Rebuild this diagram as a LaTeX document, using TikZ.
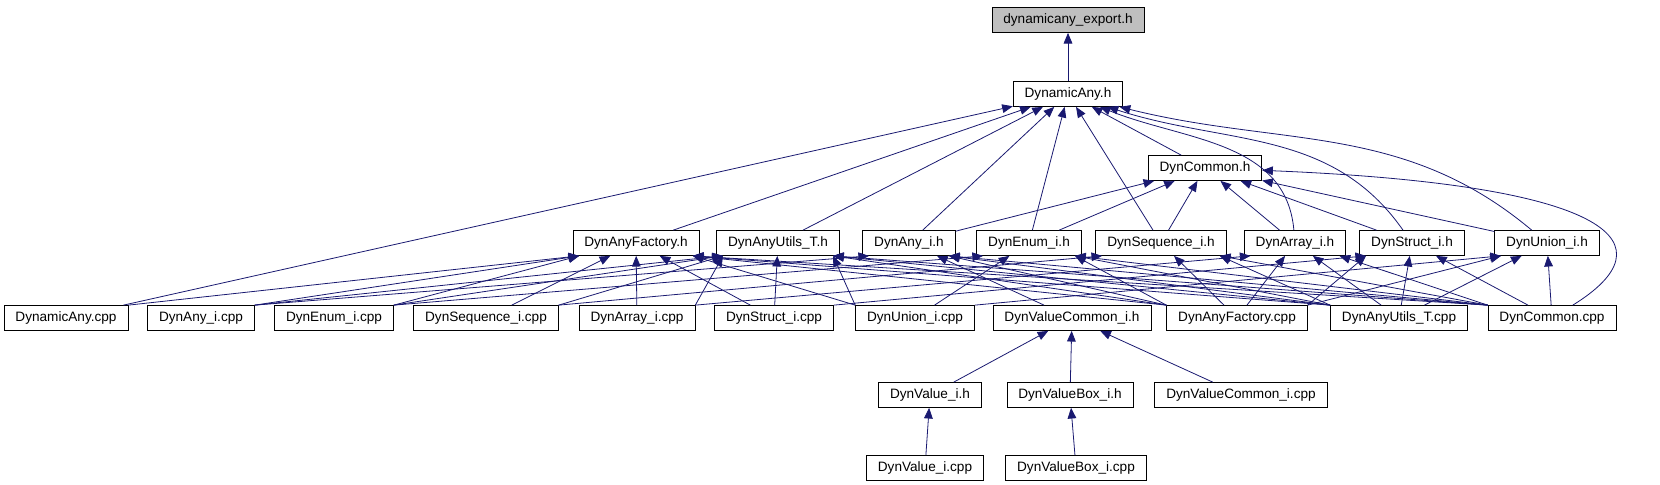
\documentclass[tikz,border=0pt]{standalone}
\usepackage{fontspec}
\setmainfont{Liberation Sans}
\usepackage{tikz}
\usetikzlibrary{arrows.meta}
\definecolor{edgeblue}{RGB}{25, 25, 112}
\definecolor{rootgray}{RGB}{191, 191, 191}

\begin{document}
\begin{tikzpicture}[x=0.75pt, y=-0.75pt,
  file/.style={draw=black, fill=white, line width=0.55pt, inner xsep=8.6pt, inner ysep=0pt,
    minimum height=18.75pt, font=\fontsize{10.2}{12}\selectfont},
  dep/.style={draw=edgeblue, line width=0.6pt, -{Triangle[length=8pt, width=6.5pt]}}]
  \useasboundingbox (0,0) rectangle (1660,485);

  % top of the graph
  \node[file, fill=rootgray] (export) at (1068,20) {dynamicany\_export.h};
  \node[file] (dynanyH) at (1068,94) {DynamicAny.h};
  \node[file] (dyncommonH) at (1205,168) {DynCommon.h};

  % headers
  \node[file] (factoryH) at (636,243) {DynAnyFactory.h};
  \node[file] (utilsH) at (778,243) {DynAnyUtils\_T.h};
  \node[file] (anyiH) at (909,243) {DynAny\_i.h};
  \node[file] (enumH) at (1029,243) {DynEnum\_i.h};
  \node[file] (seqH) at (1161,243) {DynSequence\_i.h};
  \node[file] (arrayH) at (1295,243) {DynArray\_i.h};
  \node[file] (structH) at (1412,243) {DynStruct\_i.h};
  \node[file] (unionH) at (1547,243) {DynUnion\_i.h};

  % sources
  \node[file] (dynanyCpp) at (66,318) {DynamicAny.cpp};
  \node[file] (anyiCpp) at (201,318) {DynAny\_i.cpp};
  \node[file] (enumCpp) at (334,318) {DynEnum\_i.cpp};
  \node[file] (seqCpp) at (486,318) {DynSequence\_i.cpp};
  \node[file] (arrayCpp) at (637,318) {DynArray\_i.cpp};
  \node[file] (structCpp) at (774,318) {DynStruct\_i.cpp};
  \node[file] (unionCpp) at (915,318) {DynUnion\_i.cpp};
  \node[file] (valcommonH) at (1072,318) {DynValueCommon\_i.h};
  \node[file] (factoryCpp) at (1237,318) {DynAnyFactory.cpp};
  \node[file] (utilsCpp) at (1399,318) {DynAnyUtils\_T.cpp};
  \node[file] (commonCpp) at (1552,318) {DynCommon.cpp};

  % value types
  \node[file] (valueH) at (930,395) {DynValue\_i.h};
  \node[file] (valueboxH) at (1070,395) {DynValueBox\_i.h};
  \node[file] (valcommonCpp) at (1241,395) {DynValueCommon\_i.cpp};
  \node[file] (valueCpp) at (925,468) {DynValue\_i.cpp};
  \node[file] (valueboxCpp) at (1076,468) {DynValueBox\_i.cpp};

  % into the export header and DynamicAny.h
  \draw[dep] (dynanyH) -- (export);
  \draw[dep] (dynanyCpp) -- (dynanyH);
  \draw[dep] (factoryH) -- (dynanyH);
  \draw[dep] (utilsH) -- (dynanyH);
  \draw[dep] (anyiH) -- (dynanyH);
  \draw[dep] (enumH) -- (dynanyH);
  \draw[dep] (seqH) -- (dynanyH);
  \draw[dep] (dyncommonH) -- (dynanyH);
  \draw[dep] (arrayH) to[out=95, in=-22] (dynanyH);
  \draw[dep] (structH) to[out=125, in=-18] (dynanyH);
  \draw[dep] (unionH) to[out=140, in=-14] (dynanyH);

  % into DynCommon.h
  \draw[dep] (anyiH) -- (dyncommonH);
  \draw[dep] (enumH) -- (dyncommonH);
  \draw[dep] (seqH) -- (dyncommonH);
  \draw[dep] (arrayH) -- (dyncommonH);
  \draw[dep] (structH) -- (dyncommonH);
  \draw[dep] (unionH) -- (dyncommonH);
  \draw[dep] (commonCpp) .. controls (1670,245) and (1620,185) .. (dyncommonH);

  % sources on the left
  \draw[dep] (dynanyCpp.north east) -- ([xshift=5pt]factoryH.south west);
  \draw[dep] (anyiCpp.north east) -- ([xshift=5pt]factoryH.south west);
  \draw[dep] (anyiCpp.north east) -- ([xshift=5pt]utilsH.south west);
  \draw[dep] (anyiCpp.north east) -- ([xshift=5pt]anyiH.south west);
  \draw[dep] (enumCpp.north east) -- ([xshift=5pt]factoryH.south west);
  \draw[dep] (enumCpp.north east) -- ([xshift=5pt]utilsH.south west);
  \draw[dep] (enumCpp.north east) -- ([xshift=5pt]enumH.south west);
  \draw[dep] (seqCpp) -- (factoryH);
  \draw[dep] (seqCpp.north east) -- ([xshift=5pt]utilsH.south west);
  \draw[dep] (seqCpp.north east) -- ([xshift=5pt]seqH.south west);
  \draw[dep] (arrayCpp) -- (factoryH);
  \draw[dep] (arrayCpp.north east) -- ([xshift=5pt]utilsH.south west);
  \draw[dep] (arrayCpp.north east) -- ([xshift=5pt]arrayH.south west);
  \draw[dep] (structCpp) -- (factoryH);
  \draw[dep] (structCpp) -- (utilsH);
  \draw[dep] (structCpp.north east) -- ([xshift=5pt]structH.south west);
  \draw[dep] (unionCpp.north west) -- ([xshift=-5pt]factoryH.south east);
  \draw[dep] (unionCpp.north west) -- ([xshift=-5pt]utilsH.south east);
  \draw[dep] (unionCpp) -- (enumH);
  \draw[dep] (unionCpp.north east) -- ([xshift=5pt]unionH.south west);
  \draw[dep] (valcommonH) -- (anyiH);

  % DynAnyFactory.cpp
  \draw[dep] (factoryCpp.north west) -- ([xshift=-5pt]factoryH.south east);
  \draw[dep] (factoryCpp.north west) -- ([xshift=-5pt]utilsH.south east);
  \draw[dep] (factoryCpp.north west) -- ([xshift=-5pt]anyiH.south east);
  \draw[dep] (factoryCpp.north west) -- ([xshift=-5pt]enumH.south east);
  \draw[dep] (factoryCpp) -- (seqH);
  \draw[dep] (factoryCpp) -- (arrayH);
  \draw[dep] (factoryCpp.north east) -- ([xshift=5pt]structH.south west);
  \draw[dep] (factoryCpp.north east) -- ([xshift=5pt]unionH.south west);

  % DynAnyUtils_T.cpp
  \draw[dep] (utilsCpp.north west) -- ([xshift=-5pt]factoryH.south east);
  \draw[dep] (utilsCpp.north west) -- ([xshift=-5pt]utilsH.south east);
  \draw[dep] (utilsCpp.north west) -- ([xshift=-5pt]anyiH.south east);
  \draw[dep] (utilsCpp.north west) -- ([xshift=-5pt]enumH.south east);
  \draw[dep] (utilsCpp.north west) -- ([xshift=-5pt]seqH.south east);
  \draw[dep] (utilsCpp) -- (arrayH);
  \draw[dep] (utilsCpp) -- (structH);
  \draw[dep] (utilsCpp) -- (unionH);

  % DynCommon.cpp
  \draw[dep] (commonCpp.north west) -- ([xshift=-5pt]factoryH.south east);
  \draw[dep] (commonCpp.north west) -- ([xshift=-5pt]utilsH.south east);
  \draw[dep] (commonCpp.north west) -- ([xshift=-5pt]anyiH.south east);
  \draw[dep] (commonCpp.north west) -- ([xshift=-5pt]enumH.south east);
  \draw[dep] (commonCpp.north west) -- ([xshift=-5pt]seqH.south east);
  \draw[dep] (commonCpp.north west) -- ([xshift=-5pt]arrayH.south east);
  \draw[dep] (commonCpp) -- (structH);
  \draw[dep] (commonCpp) -- (unionH);

  % value types
  \draw[dep] (valueH) -- (valcommonH);
  \draw[dep] (valueboxH) -- (valcommonH);
  \draw[dep] (valcommonCpp) -- (valcommonH);
  \draw[dep] (valueCpp) -- (valueH);
  \draw[dep] (valueboxCpp) -- (valueboxH);
\end{tikzpicture}
\end{document}
